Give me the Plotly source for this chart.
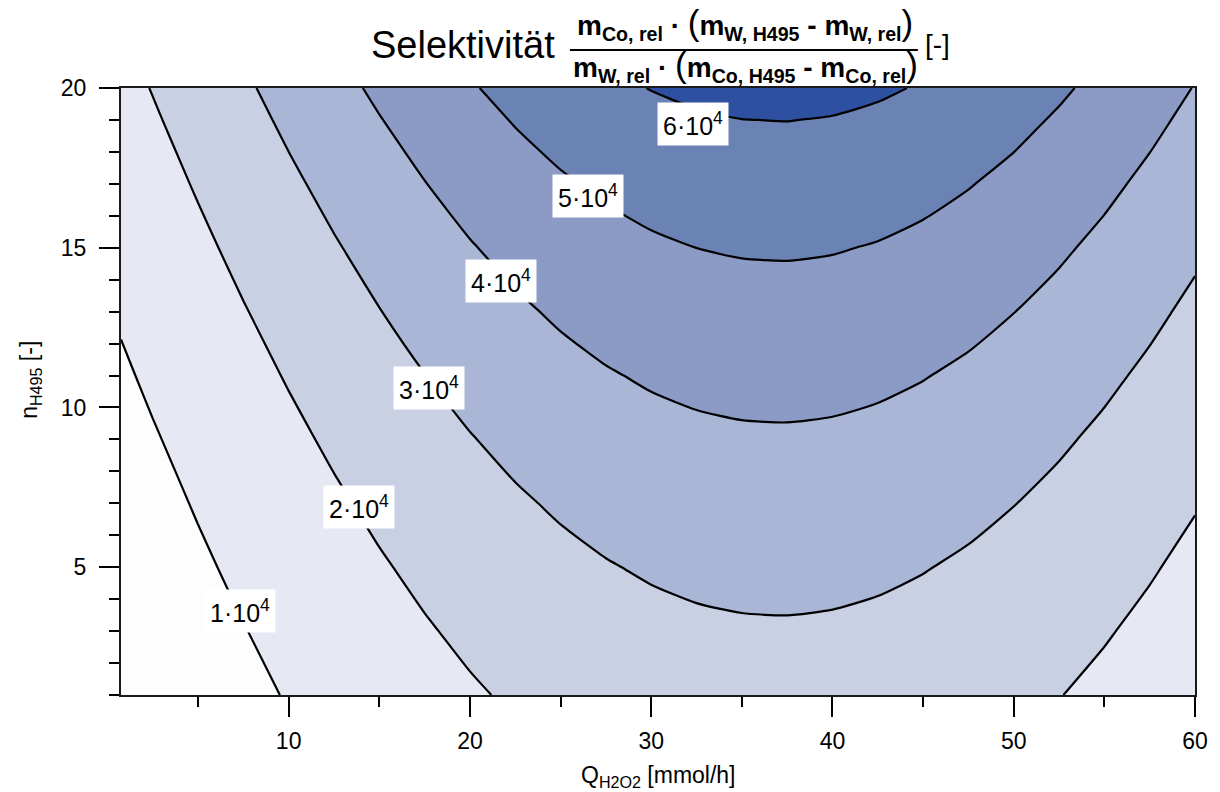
import plotly.graph_objects as go

# ---- data ----
q_h2o2 = [0.75, 2.5, 5, 7.5, 10, 12.5, 15, 17.5, 20, 22.5, 25, 27.5, 30,
          32.5, 35, 37.5, 40, 42.5, 45, 47.5, 50, 52.5, 55, 57.5, 60]
n_h495 = [1, 3, 5, 7, 9, 11, 13, 15, 17, 19, 20]

sel_n1 = [1810, 3350, 5620, 8050, 10470, 12730, 14900, 17080, 19120, 20980, 22610, 23990, 25080,
          25850, 26290, 26390, 26140, 25550, 24640, 23420, 21920, 20190, 18240, 16140, 13910]
sel_n3 = [3050, 4690, 7110, 9760, 12190, 14580, 17010, 19330, 21500, 23480, 25220, 26690, 27850,
          28680, 29140, 29250, 28980, 28360, 27380, 26080, 24490, 22640, 20570, 18320, 15950]
sel_n5 = [4370, 6120, 8870, 11510, 14010, 16660, 19250, 21720, 24040, 26150, 28010, 29570, 30810,
          31690, 32180, 32300, 32010, 31350, 30310, 28920, 27230, 25250, 23050, 20650, 18120]
sel_n7 = [5780, 7740, 10560, 13210, 16050, 18880, 21640, 24270, 26750, 29000, 30980, 32640, 33960,
          34900, 35420, 35550, 35240, 34540, 33430, 31950, 30150, 28040, 25690, 23130, 20440]
sel_n9 = [7370, 9430, 12300, 15200, 18230, 21250, 24190, 27000, 29630, 32030, 34140, 35920, 37330,
          38320, 38890, 39020, 38700, 37940, 36760, 35180, 33250, 31010, 28500, 25780, 22900]
sel_n11 = [9040, 11160, 14120, 17320, 20560, 23770, 26900, 29900, 32710, 35270, 37520, 39410, 40910,
           41970, 42580, 42710, 42370, 41560, 40300, 38630, 36570, 34180, 31500, 28600, 25540]
sel_n13 = [10740, 12940, 16170, 19590, 23030, 26460, 29800, 33000, 35990, 38710, 41110, 43140, 44730,
           45870, 46510, 46650, 46290, 45430, 44080, 42300, 40100, 37550, 34700, 31610, 28340]
sel_n15 = [12490, 14800, 18360, 22000, 25670, 29320, 32880, 36290, 39490, 42390, 44950, 47100, 48810,
           50020, 50700, 50860, 50470, 49550, 48120, 46210, 43870, 41150, 38110, 34820, 31330]
sel_n17 = [14330, 16900, 20690, 24570, 28490, 32380, 36180, 39810, 43210, 46310, 49040, 51330, 53150,
           54440, 55170, 55330, 54920, 53940, 52410, 50380, 47890, 44990, 41750, 38240, 34520]
sel_n19 = [16390, 19130, 23170, 27310, 31490, 35630, 39680, 43560, 47190, 50490, 53400, 55850, 57780,
           59150, 59940, 60110, 59670, 58620, 56990, 54830, 52170, 49080, 45630, 41880, 37920]
sel_n20 = [17470, 20310, 24480, 28750, 33060, 37340, 41520, 45530, 49270, 52680, 55680, 58210, 60210,
           61630, 62440, 62610, 62160, 61080, 59400, 57160, 54420, 51230, 47660, 43790, 39700]

selectivity = [sel_n1, sel_n3, sel_n5, sel_n7, sel_n9, sel_n11, sel_n13,
               sel_n15, sel_n17, sel_n19, sel_n20]

level_start, level_end, level_step = 10000, 60000, 10000

label_text = ["1·10<sup>4</sup>", "2·10<sup>4</sup>", "3·10<sup>4</sup>",
              "4·10<sup>4</sup>", "5·10<sup>4</sup>", "6·10<sup>4</sup>"]
label_q = [7.31, 13.9, 17.75, 21.74, 26.5, 32.28]
label_n = [3.63, 6.89, 10.61, 13.96, 16.62, 18.87]

# ---- styling ----
band_colors = ["#fdfdfe", "#e6e9f3", "#c9d0e4", "#aab6d6", "#8b9bc6", "#6a82b4", "#2e50a0"]
colorscale = [[i / 6, c] for i, c in enumerate(band_colors)]
FONT = "Liberation Sans, Arial, sans-serif"

fig = go.Figure(go.Contour(
    x=q_h2o2, y=n_h495, z=selectivity, colorscale=colorscale, showscale=False,
    contours=dict(start=level_start, end=level_end, size=level_step,
                  coloring="fill", showlabels=False),
    line=dict(color="black", width=2.2, smoothing=0.6), hoverinfo="skip"))

fig.update_layout(width=1220, height=792, margin=dict(l=121, r=20, t=88, b=97),
                  paper_bgcolor="white", plot_bgcolor="white", showlegend=False,
                  font=dict(family=FONT, color="black", size=23))

axis_common = dict(ticks="outside", ticklen=20, tickwidth=2, tickcolor="black",
                   showline=True, linewidth=2.2, linecolor="#1a1a1a", mirror=True,
                   showgrid=False, zeroline=False, tickfont=dict(size=23, family=FONT))
fig.update_xaxes(range=[0.75, 60], tick0=0, dtick=10, ticklabelstandoff=4,
                 minor=dict(dtick=5, tick0=0, ticks="outside", ticklen=10, tickwidth=2,
                            tickcolor="black", showgrid=False), **axis_common)
fig.update_yaxes(range=[1, 20], tick0=0, dtick=5, ticklabelstandoff=8,
                 minor=dict(dtick=1, tick0=0, ticks="outside", ticklen=10, tickwidth=2,
                            tickcolor="black", showgrid=False), **axis_common)

# contour labels
for q, n, t in zip(label_q, label_n, label_text):
    fig.add_annotation(x=q, y=n, xref="x", yref="y", text=t, showarrow=False,
                       xanchor="center", yanchor="middle",
                       bgcolor="white", borderpad=5, font=dict(size=25, family=FONT, color="black"))

# axis titles
fig.add_annotation(x=0.5, y=-0.134, xref="paper", yref="paper", showarrow=False,
                   xanchor="center", yanchor="middle",
                   text="Q<sub>H2O2</sub> [mmol/h]", font=dict(size=23, family=FONT))
fig.add_annotation(x=-0.0843, y=0.52, xref="paper", yref="paper", showarrow=False, textangle=-90,
                   xanchor="center", yanchor="middle",
                   text="n<sub>H495</sub> [-]", font=dict(size=23, family=FONT))

# title with fraction
big = '<span style="font-size:35px;font-weight:normal">{}</span>'
fig.add_annotation(x=0.318, y=1.071, xref="paper", yref="paper", showarrow=False,
                   xanchor="center", yanchor="middle",
                   text="Selektivität", font=dict(size=38, family=FONT))
fig.add_annotation(x=0.581, y=1.105, xref="paper", yref="paper", showarrow=False,
                   xanchor="center", yanchor="middle",
                   text="<b>m<sub>Co, rel</sub> · " + big.format("(") + "m<sub>W, H495</sub> - m<sub>W, rel</sub>"
                        + big.format(")") + "</b>",
                   font=dict(size=28, family=FONT))
fig.add_annotation(x=0.5815, y=1.036, xref="paper", yref="paper", showarrow=False,
                   xanchor="center", yanchor="middle",
                   text="<b>m<sub>W, rel</sub> · " + big.format("(") + "m<sub>Co, H495</sub> - m<sub>Co, rel</sub>"
                        + big.format(")") + "</b>",
                   font=dict(size=28, family=FONT))
fig.add_shape(type="line", xref="paper", yref="paper", x0=0.418, x1=0.742, y0=1.0627, y1=1.0627,
              line=dict(color="black", width=2))
fig.add_annotation(x=0.760, y=1.071, xref="paper", yref="paper", showarrow=False,
                   xanchor="center", yanchor="middle",
                   text="[-]", font=dict(size=28, family=FONT))

fig.write_html("out.html", config={"displayModeBar": False},
               post_script="document.body.style.margin='0';document.body.style.overflow='hidden';")
